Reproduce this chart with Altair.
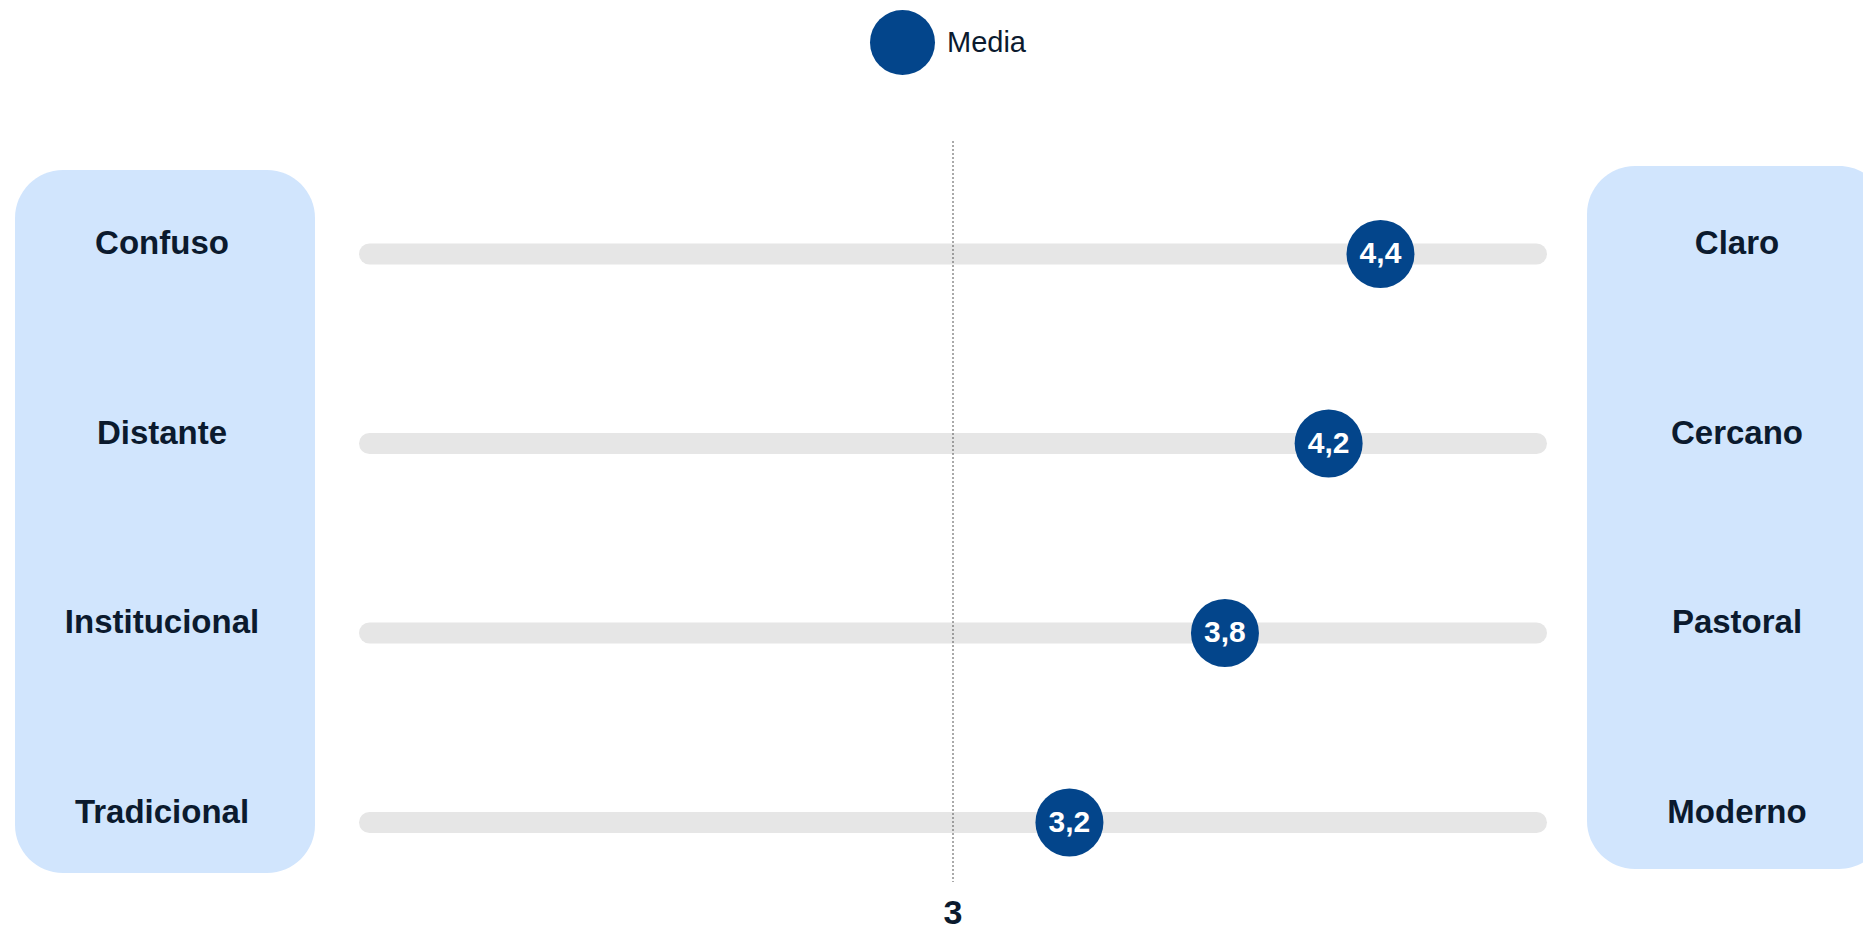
import altair as alt
import pandas as pd

# ---- data ----
left_labels = ["Confuso", "Distante", "Institucional", "Tradicional"]
right_labels = ["Claro", "Cercano", "Pastoral", "Moderno"]
means = [4.4, 4.2, 3.8, 3.2]
series_name = "Media"
scale_min, scale_max = 1, 5
reference_value = [3]

rows = list(range(len(left_labels)))

df = pd.DataFrame({
    "row": rows,
    "left": left_labels,
    "right": right_labels,
    "media": means,
    "label": [f"{v:.1f}".replace(".", ",") for v in means],
    "start": [scale_min] * len(rows),
    "end": [scale_max] * len(rows),
    "serie": [series_name] * len(rows),
})
ref_df = pd.DataFrame({"ref": reference_value, "txt": [str(v) for v in reference_value]})
box_df = pd.DataFrame({"k": [0]})

FONT = "Liberation Sans"
TEXT_COLOR = "#0b1a2e"
DOT = "#03458b"
BOX = "#d1e5fd"
TRACK = "#e6e6e6"

y_scale = alt.Scale(domain=[0, len(rows) - 1], range=[246, 814.5], nice=False, zero=False)
y_enc = alt.Y("row:Q", scale=y_scale, axis=None)
x_track = alt.Scale(domain=[scale_min, scale_max], range=[361.5, 1528.5], nice=False, zero=False)
x_dot = alt.Scale(domain=[scale_min, scale_max], range=[491.2, 1528], nice=False, zero=False)

left_box = alt.Chart(box_df).mark_rect(cornerRadius=48, color=BOX).encode(
    x=alt.value(7), x2=alt.value(307), y=alt.value(162), y2=alt.value(865)
)
right_box = alt.Chart(box_df).mark_rect(cornerRadius=48, color=BOX).encode(
    x=alt.value(1579), x2=alt.value(1879), y=alt.value(158), y2=alt.value(861)
)

left_text = alt.Chart(df).mark_text(
    font=FONT, fontSize=33, fontWeight="bold", color=TEXT_COLOR, dy=-10, baseline="middle"
).encode(x=alt.value(154), y=y_enc, text="left:N")
right_text = alt.Chart(df).mark_text(
    font=FONT, fontSize=33, fontWeight="bold", color=TEXT_COLOR, dy=-10, baseline="middle"
).encode(x=alt.value(1729), y=y_enc, text="right:N")

tracks = alt.Chart(df).mark_rule(strokeWidth=21, strokeCap="round", color=TRACK).encode(
    x=alt.X("start:Q", scale=x_track, axis=None), x2="end:Q", y=y_enc
)

ref_rule = alt.Chart(ref_df).mark_rule(color="#555555", strokeWidth=1, strokeDash=[2, 2]).encode(
    x=alt.X("ref:Q", scale=x_track, axis=None), y=alt.value(133), y2=alt.value(874)
)
ref_text = alt.Chart(ref_df).mark_text(
    font=FONT, fontSize=34, fontWeight="bold", color=TEXT_COLOR, baseline="alphabetic"
).encode(x=alt.X("ref:Q", scale=x_track, axis=None), y=alt.value(916), text="txt:N")

dots = alt.Chart(df).mark_circle(size=4624, opacity=1).encode(
    x=alt.X("media:Q", scale=x_dot, axis=None),
    y=y_enc,
    color=alt.Color(
        "serie:N",
        scale=alt.Scale(domain=[series_name], range=[DOT]),
        legend=alt.Legend(
            orient="none", legendX=862, legendY=2, title=None,
            symbolType="circle", symbolSize=4225, symbolStrokeWidth=0, symbolOpacity=1,
            labelFontSize=29, labelFont=FONT, labelColor=TEXT_COLOR, labelOffset=12,
        ),
    ),
)
dot_text = alt.Chart(df).mark_text(
    font=FONT, fontSize=30, fontWeight="bold", color="white", baseline="middle"
).encode(x=alt.X("media:Q", scale=x_dot, axis=None), y=y_enc, text="label:N")

chart = alt.layer(
    left_box, right_box, left_text, right_text, tracks, ref_rule, ref_text, dots, dot_text
).resolve_scale(x="independent").properties(
    width=1855, height=922, autosize=alt.AutoSizeParams(type="none"), padding=0
).configure_view(stroke=None)

chart.save("out.html", embed_options={"renderer": "svg", "actions": False})
